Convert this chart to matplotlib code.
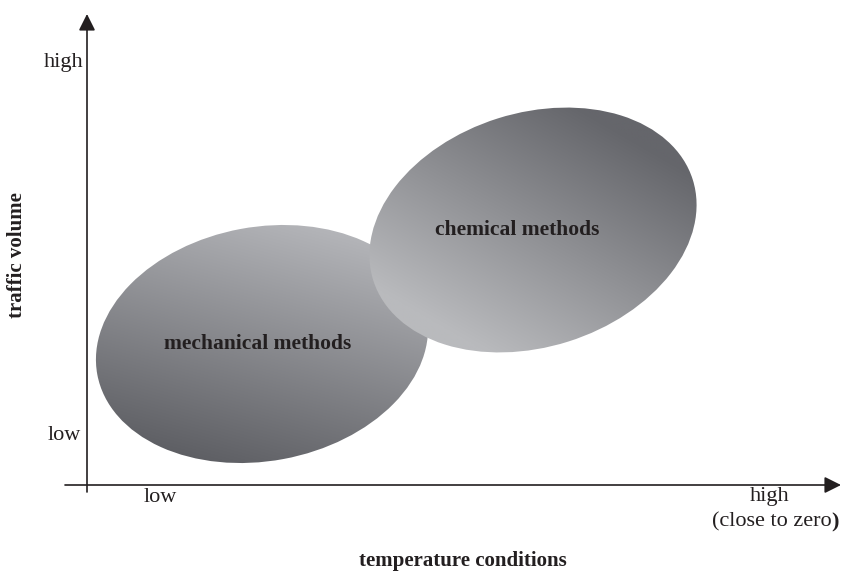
import numpy as np
import matplotlib
matplotlib.use("Agg")
import matplotlib.pyplot as plt
from matplotlib.patches import Ellipse

# ---- data (conceptual diagram, units in canvas space) ----
method_labels = ["mechanical methods", "chemical methods"]
center_x = [262, 533]
center_y = [229, 343]
ellipse_w = [335, 335]
ellipse_h = [234, 234]
ellipse_angle = [10.5, 17.5]
grad_dir_deg = [75, 60]          # direction of increasing "t"
color_t0 = ["#5e5f64", "#b9babd"]   # colour at t=0
color_t1 = ["#b4b5b9", "#65666b"]   # colour at t=1

y_tick_labels = ["low", "high"]
x_tick_labels = ["low", "high"]
x_label = "temperature conditions"
y_label = "traffic volume"

W, H = 841, 573
fig = plt.figure(figsize=(W / 100, H / 100), dpi=100)
ax = fig.add_axes([0, 0, 1, 1])
ax.set_xlim(0, W)
ax.set_ylim(0, H)
ax.axis("off")

def hex2rgb(h):
    h = h.lstrip("#")
    return np.array([int(h[i:i + 2], 16) / 255 for i in (0, 2, 4)])

for i in range(2):
    cx, cy = center_x[i], center_y[i]
    w, h = ellipse_w[i], ellipse_h[i]
    e = Ellipse((cx, cy), w, h, angle=ellipse_angle[i], facecolor="none",
                edgecolor="none", transform=ax.transData)
    ax.add_patch(e)
    r = max(w, h) / 2 + 4
    xs = np.linspace(cx - r, cx + r, 400)
    ys = np.linspace(cy - r, cy + r, 400)
    X, Y = np.meshgrid(xs, ys)
    d = np.deg2rad(grad_dir_deg[i])
    proj = (X - cx) * np.cos(d) + (Y - cy) * np.sin(d)
    t = np.clip((proj + r * 0.75) / (1.5 * r), 0, 1)
    c0, c1 = hex2rgb(color_t0[i]), hex2rgb(color_t1[i])
    img = c0[None, None, :] * (1 - t[..., None]) + c1[None, None, :] * t[..., None]
    im = ax.imshow(img, extent=(cx - r, cx + r, cy - r, cy + r), origin="lower",
                   interpolation="bilinear", zorder=2 + i)
    im.set_clip_path(e)
    ax.text(cx - (4 if i == 0 else 16), cy, method_labels[i],
            ha="center", va="center", fontsize=15.5, fontweight="bold",
            family="Liberation Serif", color="#231f20", zorder=10)

ax.set_aspect("auto")

# axes arrows
lc = "#231f20"
ox, oy = 87, 88
ax.annotate("", xy=(ox, H - 14), xytext=(ox, 81),
            arrowprops=dict(arrowstyle="-|>,head_length=0.5,head_width=0.25",
                            mutation_scale=20, lw=1.2, color=lc,
                            shrinkA=0, shrinkB=0), zorder=11)
ax.annotate("", xy=(841, oy), xytext=(65, oy),
            arrowprops=dict(arrowstyle="-|>,head_length=0.5,head_width=0.25",
                            mutation_scale=20, lw=1.2, color=lc,
                            shrinkA=0, shrinkB=0), zorder=11)

tf = dict(family="Liberation Serif", color=lc, fontsize=16)
ax.text(83, H - 62, y_tick_labels[1], ha="right", va="center", **tf)
ax.text(81, H - 435, y_tick_labels[0], ha="right", va="center", **tf)
ax.text(160, H - 497, x_tick_labels[0], ha="center", va="center", **tf)
ax.text(770, H - 497, x_tick_labels[1], ha="center", va="center", **tf)
ax.text(832, H - 522, "(close to zero", ha="right", va="center", **tf)
ax.text(831, H - 522, ")", ha="left", va="center", fontweight="bold", **tf)

ax.text(463, H - 561, x_label, ha="center", va="center", fontsize=15,
        fontweight="bold", family="Liberation Serif", color=lc)
ax.text(17, H - 255, y_label, ha="center", va="center", rotation=90,
        fontsize=15, fontweight="bold", family="Liberation Serif", color=lc)

fig.savefig("out.png", dpi=100, facecolor="white")
